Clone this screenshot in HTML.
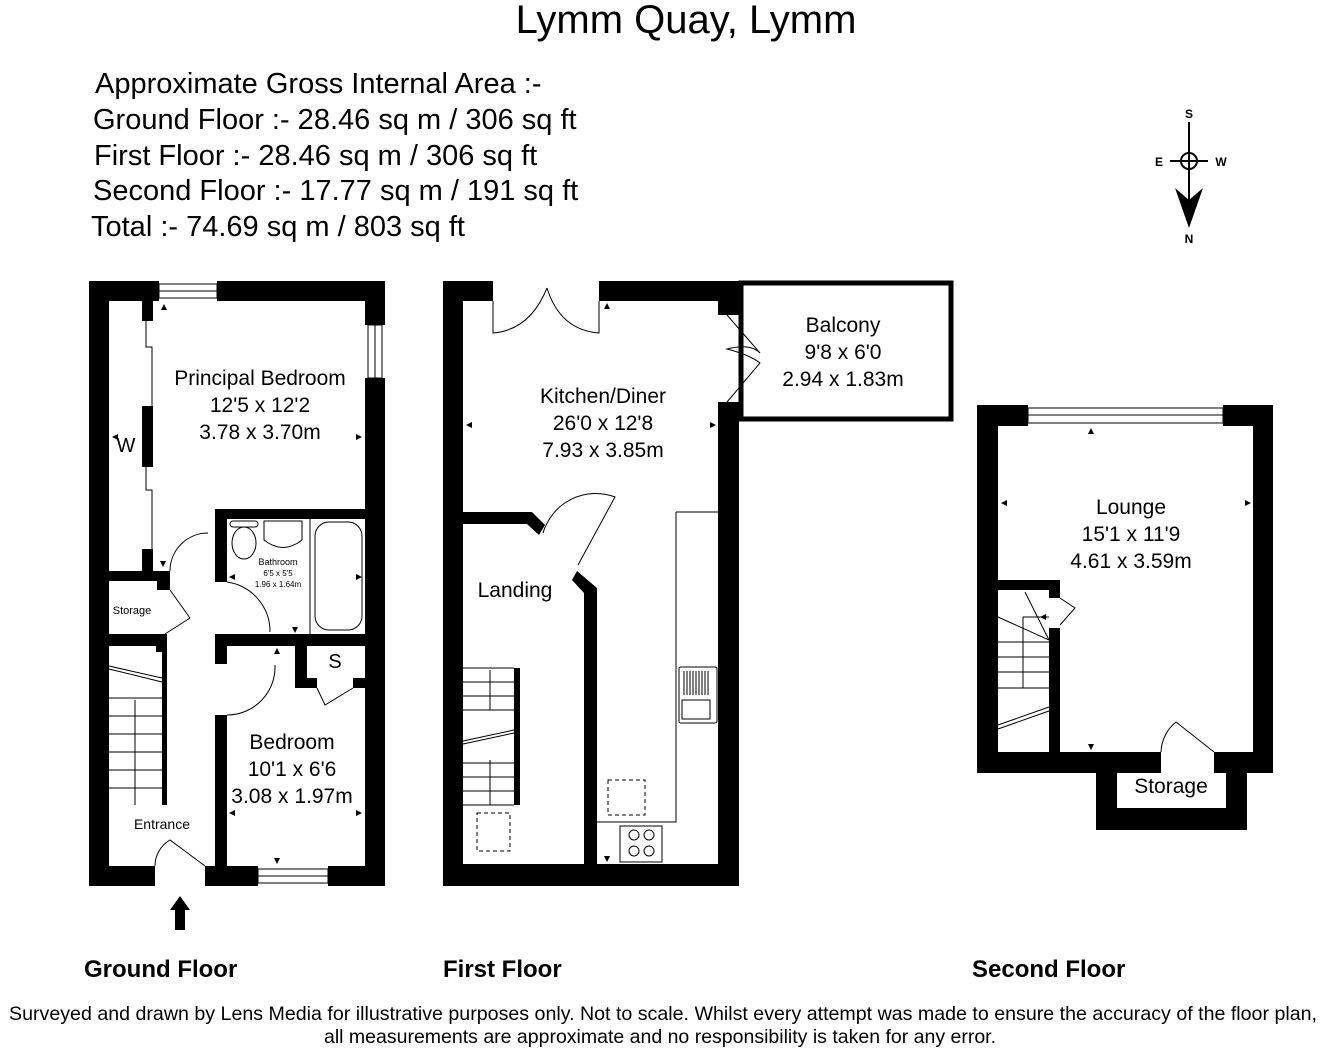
<!DOCTYPE html>
<html><head><meta charset="utf-8"><style>
html,body{margin:0;padding:0;background:#fff}
svg{display:block}
text{font-family:"Liberation Sans",Arial,sans-serif;fill:#000}
</style></head><body>
<svg width="1320" height="1048" viewBox="0 0 1320 1048" xmlns="http://www.w3.org/2000/svg">
<text x="686" y="33" font-size="40" text-anchor="middle">Lymm Quay, Lymm</text>
<g font-size="29">
<text x="95" y="93">Approximate Gross Internal Area :-</text>
<text x="93" y="129">Ground Floor :- 28.46 sq m / 306 sq ft</text>
<text x="94" y="165">First Floor :- 28.46 sq m / 306 sq ft</text>
<text x="93" y="200">Second Floor :- 17.77 sq m / 191 sq ft</text>
<text x="91" y="236">Total :- 74.69 sq m / 803 sq ft</text>
</g>
<!-- compass -->
<g stroke="#000" stroke-width="2" fill="none">
<line x1="1189" y1="122" x2="1189" y2="205"/>
<line x1="1170" y1="161" x2="1208" y2="161"/>
<circle cx="1189" cy="161" r="8"/>
</g>
<path d="M1175 188 L1189 200 L1203 188 L1189 228 Z" fill="#000"/>
<g font-size="12" font-weight="bold" text-anchor="middle">
<text x="1189" y="118">S</text><text x="1159" y="166">E</text><text x="1221" y="166">W</text><text x="1189" y="243">N</text>
</g>

<!-- GROUND FLOOR -->
<g fill="#000">
<rect x="89" y="281" width="70" height="20"/>
<rect x="217" y="281" width="168" height="20"/>
<rect x="89" y="281" width="20" height="605"/>
<rect x="365" y="281" width="20" height="44"/>
<rect x="365" y="378" width="20" height="508"/>
<rect x="89" y="866" width="66" height="20"/>
<rect x="205" y="866" width="53" height="20"/>
<rect x="328" y="866" width="57" height="20"/>
<rect x="142" y="301" width="11" height="20"/>
<rect x="142" y="406" width="11" height="61"/>
<rect x="142" y="549" width="11" height="22"/>
<rect x="109" y="571" width="61" height="10"/>
<rect x="157" y="571" width="13" height="19"/>
<rect x="109" y="634" width="58" height="12"/>
<rect x="156" y="634" width="11" height="18"/>
<rect x="162" y="646" width="5" height="159"/>
<rect x="215" y="509" width="150" height="10"/>
<rect x="215" y="509" width="12" height="73"/>
<rect x="215" y="634" width="150" height="12"/>
<rect x="215" y="634" width="12" height="30"/>
<rect x="215" y="715" width="12" height="151"/>
<rect x="295" y="646" width="12" height="42"/>
<rect x="295" y="678" width="22" height="10"/>
<rect x="353" y="678" width="12" height="10"/>
</g>
<g fill="none" stroke="#000" stroke-width="1">
<rect x="159" y="284" width="58" height="14"/><line x1="159" y1="291" x2="217" y2="291"/>
<rect x="368" y="325" width="14" height="53"/><line x1="375" y1="325" x2="375" y2="378"/>
<rect x="258" y="869" width="70" height="14"/><line x1="258" y1="876" x2="328" y2="876"/>
<polyline points="146,321 146,347 152,347 152,406"/><polyline points="146,467 146,490 152,490 152,549"/>
<path d="M170 571 A38 38 0 0 1 208 533"/><line x1="170" y1="590" x2="190" y2="618"/><path d="M190 618 L165 634"/>
<path d="M227 582 A50 50 0 0 1 270 632"/>
<path d="M227 715 A48 48 0 0 0 275 665"/>
<path d="M317 688 L325 705 L353 688"/>
<path d="M155 866 A30 30 0 0 1 170 840 L205 866"/>
<line x1="310" y1="519" x2="310" y2="634"/>
<rect x="315" y="522" width="47" height="108" rx="14"/>
<path d="M264 521 L302 521 L302 540 Q283 555 264 540 Z"/>
<ellipse cx="244" cy="543" rx="12" ry="16"/><rect x="230" y="521" width="28" height="6" rx="3"/>
<line x1="109" y1="666" x2="162" y2="678"/><line x1="109" y1="669" x2="162" y2="682"/>
<line x1="109" y1="698" x2="162" y2="698"/><line x1="109" y1="716" x2="162" y2="716"/><line x1="109" y1="734" x2="162" y2="734"/><line x1="109" y1="752" x2="162" y2="752"/><line x1="109" y1="770" x2="162" y2="770"/><line x1="109" y1="788" x2="162" y2="788"/>
<line x1="135" y1="700" x2="135" y2="805"/>
</g>
<text x="260" y="385" font-size="21" text-anchor="middle">Principal Bedroom</text>
<text x="260" y="412" font-size="21" text-anchor="middle">12'5 x 12'2</text>
<text x="260" y="439" font-size="21" text-anchor="middle">3.78 x 3.70m</text>
<text x="126" y="452" font-size="20" text-anchor="middle">W</text>
<text x="278" y="565" font-size="9" text-anchor="middle">Bathroom</text>
<text x="278" y="576" font-size="8" text-anchor="middle">6'5 x 5'5</text>
<text x="278" y="587" font-size="8" text-anchor="middle">1.96 x 1.64m</text>
<text x="132" y="614" font-size="11" text-anchor="middle">Storage</text>
<text x="335" y="668" font-size="20" text-anchor="middle">S</text>
<text x="292" y="749" font-size="21" text-anchor="middle">Bedroom</text>
<text x="292" y="776" font-size="21" text-anchor="middle">10'1 x 6'6</text>
<text x="292" y="803" font-size="21" text-anchor="middle">3.08 x 1.97m</text>
<text x="162" y="829" font-size="14" text-anchor="middle">Entrance</text>
<path d="M170 910 L180 896 L190 910 L185 910 L185 930 L175 930 L175 910 Z" fill="#000"/>

<!-- FIRST FLOOR -->
<g fill="#000">
<rect x="443" y="281" width="50" height="20"/>
<rect x="599" y="281" width="140" height="20"/>
<rect x="443" y="281" width="20" height="605"/>
<rect x="718" y="281" width="21" height="34"/>
<rect x="718" y="402" width="21" height="484"/>
<rect x="443" y="864" width="296" height="22"/>
<polygon points="463,512 532,512 545,525 539,535 527,524 463,524"/>
<polygon points="577,571 597,588 597,864 584,864 584,593 572,580"/>
<rect x="514" y="668" width="6" height="137"/>
</g>
<g fill="none" stroke="#000" stroke-width="1">
<rect x="741" y="283" width="210" height="136" stroke-width="5"/>
<path d="M493 301 L493 333 Q530 330 547 288"/><path d="M599 301 L599 333 Q560 330 547 288"/>
<path d="M727 315 L760 353 Q750 343 727 349 Q750 355 760 363 L727 402"/>
<path d="M543 533 A55 55 0 0 1 615 497 L578 565"/>
<polyline points="676,512 676,822 595,822"/><line x1="676" y1="512" x2="718" y2="512"/>
<rect x="679" y="667" width="38" height="56" rx="2"/><rect x="682" y="700" width="28" height="19"/>
<line x1="684" y1="671" x2="684" y2="695"/><line x1="687" y1="671" x2="687" y2="695"/><line x1="690" y1="671" x2="690" y2="695"/><line x1="693" y1="671" x2="693" y2="695"/><line x1="696" y1="671" x2="696" y2="695"/><line x1="699" y1="671" x2="699" y2="695"/><line x1="702" y1="671" x2="702" y2="695"/><line x1="705" y1="671" x2="705" y2="695"/><line x1="708" y1="671" x2="708" y2="695"/>
<rect x="620" y="826" width="42" height="36"/>
<circle cx="634" cy="835" r="5"/><circle cx="649" cy="835" r="5"/><circle cx="634" cy="851" r="5"/><circle cx="649" cy="851" r="5"/>
<rect x="608" y="780" width="37" height="35" stroke-dasharray="4,3"/>
<rect x="477" y="813" width="33" height="38" stroke-dasharray="4,3"/>
<line x1="463" y1="668" x2="514" y2="668"/><line x1="463" y1="682" x2="514" y2="682"/><line x1="463" y1="696" x2="514" y2="696"/><line x1="463" y1="710" x2="514" y2="710"/>
<line x1="463" y1="741" x2="514" y2="730"/><line x1="463" y1="744" x2="514" y2="733"/>
<line x1="463" y1="763" x2="514" y2="763"/><line x1="463" y1="777" x2="514" y2="777"/><line x1="463" y1="791" x2="514" y2="791"/><line x1="463" y1="805" x2="514" y2="805"/>
<line x1="490" y1="670" x2="490" y2="710"/><line x1="490" y1="760" x2="490" y2="805"/>
</g>
<text x="603" y="403" font-size="21" text-anchor="middle">Kitchen/Diner</text>
<text x="603" y="430" font-size="21" text-anchor="middle">26'0 x 12'8</text>
<text x="603" y="457" font-size="21" text-anchor="middle">7.93 x 3.85m</text>
<text x="843" y="332" font-size="21" text-anchor="middle">Balcony</text>
<text x="843" y="359" font-size="21" text-anchor="middle">9'8 x 6'0</text>
<text x="843" y="386" font-size="21" text-anchor="middle">2.94 x 1.83m</text>
<text x="515" y="597" font-size="21" text-anchor="middle">Landing</text>

<!-- SECOND FLOOR -->
<g fill="#000">
<rect x="977" y="405" width="51" height="21"/>
<rect x="1223" y="405" width="50" height="21"/>
<rect x="977" y="405" width="21" height="368"/>
<rect x="1253" y="405" width="20" height="368"/>
<rect x="977" y="752" width="184" height="21"/>
<rect x="1214" y="752" width="59" height="21"/>
<rect x="1096" y="752" width="21" height="78"/>
<rect x="1226" y="752" width="21" height="78"/>
<rect x="1096" y="808" width="151" height="22"/>
<rect x="998" y="580" width="62" height="10"/>
<rect x="1049" y="580" width="11" height="18"/>
<rect x="1049" y="628" width="11" height="124"/>
</g>
<g fill="none" stroke="#000" stroke-width="1">
<rect x="1028" y="408" width="195" height="15"/><line x1="1028" y1="415" x2="1223" y2="415"/>
<path d="M1060 598 L1075 608 L1060 625"/>
<path d="M1161 752 A40 40 0 0 1 1176 722 L1214 752"/>
<line x1="998" y1="617" x2="1049" y2="640"/><line x1="1025" y1="592" x2="1049" y2="640"/>
<line x1="998" y1="642" x2="1049" y2="642"/><line x1="998" y1="657" x2="1049" y2="657"/><line x1="998" y1="672" x2="1049" y2="672"/><line x1="998" y1="688" x2="1049" y2="688"/>
<polyline points="1023,688 1023,617 1049,617"/>
<line x1="998" y1="725" x2="1049" y2="707"/><line x1="998" y1="729" x2="1049" y2="711"/>
</g>
<text x="1131" y="514" font-size="21" text-anchor="middle">Lounge</text>
<text x="1131" y="541" font-size="21" text-anchor="middle">15'1 x 11'9</text>
<text x="1131" y="568" font-size="21" text-anchor="middle">4.61 x 3.59m</text>
<text x="1171" y="793" font-size="21" text-anchor="middle">Storage</text>

<!-- dimension arrows -->
<g fill="#000">
<path d="M164 304 l-3 6 h6z"/><path d="M112 437 l6 -3 v6z"/><path d="M362 437 l-6 -3 v6z"/>
<path d="M163 567 l-3 -6 h6z"/><path d="M229 577 l6 -3 v6z"/><path d="M362 577 l-6 -3 v6z"/>
<path d="M295 633 l-3 -6 h6z"/><path d="M277 648 l-3 6 h6z"/><path d="M229 813 l6 -3 v6z"/><path d="M362 813 l-6 -3 v6z"/><path d="M277 864 l-3 -6 h6z"/>
<path d="M607 303 l-3 6 h6z"/><path d="M466 425 l6 -3 v6z"/><path d="M716 425 l-6 -3 v6z"/><path d="M607 862 l-3 -6 h6z"/>
<path d="M1091 428 l-3 6 h6z"/><path d="M1001 503 l6 -3 v6z"/><path d="M1251 503 l-6 -3 v6z"/><path d="M1091 750 l-3 -6 h6z"/><path d="M1040 617 l6 -3 v6z"/>
</g>

<g font-size="24" font-weight="bold">
<text x="84" y="977">Ground Floor</text>
<text x="443" y="977">First Floor</text>
<text x="972" y="977">Second Floor</text>
</g>
<text x="663" y="1020" font-size="19.5" text-anchor="middle" textLength="1308" lengthAdjust="spacingAndGlyphs">Surveyed and drawn by Lens Media for illustrative purposes only. Not to scale. Whilst every attempt was made to ensure the accuracy of the floor plan,</text>
<text x="660" y="1043" font-size="19.5" text-anchor="middle">all measurements are approximate and no responsibility is taken for any error.</text>
</svg>
</body></html>
